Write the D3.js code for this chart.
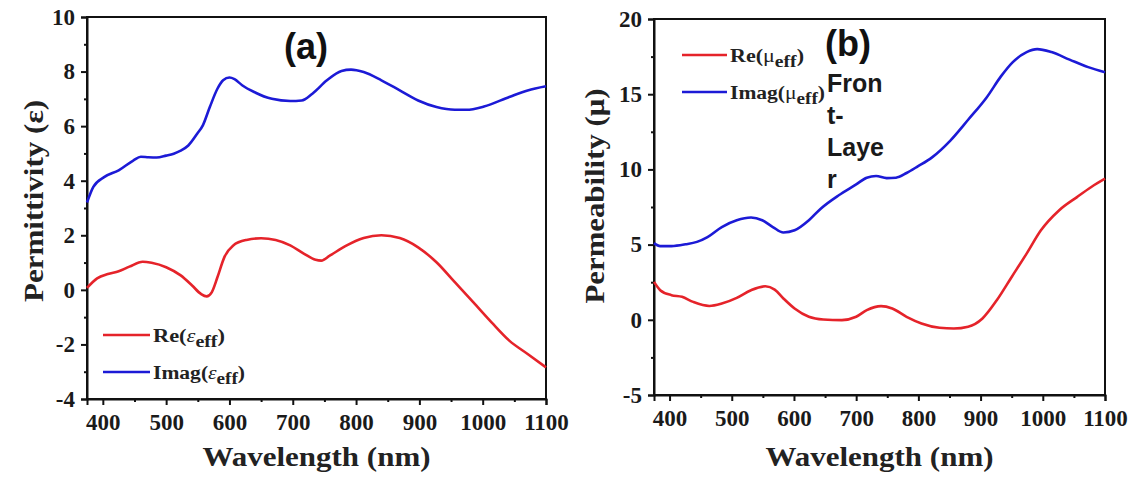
<!DOCTYPE html>
<html>
<head>
<meta charset="utf-8">
<script src="https://cdn.jsdelivr.net/npm/d3@7"></script>
<style>
  body { margin: 0; background: #fff; }
  svg { display: block; }
</style>
</head>
<body>
<div id="chart"></div>
<script>
// wavelength ticks shared by both panels
const xMajorTicks = [400, 500, 600, 700, 800, 900, 1000, 1100];
const xMinorTicks = [450, 550, 650, 750, 850, 950, 1050];

// (a) permittivity
const epsYTicks = [-4, -2, 0, 2, 4, 6, 8, 10];
const epsYMinor = [-3, -1, 1, 3, 5, 7, 9];
const epsReWl = [375, 391, 408, 425, 442, 463, 477, 500, 523, 541, 555, 564, 572, 581, 592, 606, 627, 650, 673, 696, 718, 736, 745, 759, 783, 812, 840, 869, 898, 927, 956, 985, 1014, 1042, 1071, 1100];
const epsRe = [0.07, 0.42, 0.58, 0.68, 0.85, 1.03, 0.99, 0.83, 0.53, 0.16, -0.15, -0.24, -0.09, 0.46, 1.2, 1.63, 1.83, 1.89, 1.83, 1.63, 1.32, 1.1, 1.07, 1.26, 1.6, 1.9, 2.0, 1.9, 1.56, 1.01, 0.28, -0.45, -1.19, -1.86, -2.35, -2.84];
const epsImWl = [375, 385, 402, 425, 448, 460, 472, 485, 500, 512, 523, 535, 549, 558, 569, 581, 590, 600, 608, 620, 639, 667, 696, 714, 731, 754, 777, 792, 812, 840, 869, 898, 927, 956, 974, 1002, 1042, 1071, 1100];
const epsIm = [3.2, 3.77, 4.13, 4.38, 4.74, 4.88, 4.86, 4.85, 4.92, 4.99, 5.1, 5.29, 5.72, 6.03, 6.7, 7.37, 7.68, 7.78, 7.72, 7.5, 7.25, 7.0, 6.92, 6.94, 7.19, 7.68, 8.02, 8.07, 7.98, 7.68, 7.31, 6.94, 6.7, 6.6, 6.6, 6.72, 7.07, 7.31, 7.46];

// (b) permeability
const muYTicks = [-5, 0, 5, 10, 15, 20];
const muYMinor = [-2.5, 2.5, 7.5, 12.5, 17.5];
const muReWl = [375, 385, 403, 420, 438, 464, 484, 508, 531, 554, 569, 583, 601, 624, 647, 677, 700, 717, 740, 758, 781, 805, 834, 857, 880, 903, 926, 950, 974, 997, 1026, 1055, 1078, 1100];
const muRe = [2.52, 1.97, 1.64, 1.53, 1.19, 0.92, 1.08, 1.46, 1.97, 2.23, 2.01, 1.42, 0.75, 0.2, 0.02, -0.02, 0.2, 0.64, 0.91, 0.75, 0.2, -0.24, -0.53, -0.58, -0.46, 0.09, 1.3, 2.85, 4.4, 5.95, 7.27, 8.16, 8.83, 9.38];
const muImWl = [375, 385, 403, 426, 444, 461, 484, 508, 531, 549, 566, 583, 601, 624, 643, 672, 700, 717, 732, 749, 764, 781, 799, 822, 851, 880, 910, 933, 951, 974, 991, 1014, 1043, 1073, 1100];
const muIm = [5.1, 4.9, 4.9, 5.02, 5.18, 5.5, 6.17, 6.62, 6.8, 6.62, 6.17, 5.8, 5.95, 6.62, 7.39, 8.28, 9.0, 9.45, 9.56, 9.42, 9.45, 9.76, 10.2, 10.8, 11.9, 13.3, 14.8, 16.2, 17.1, 17.8, 18.0, 17.8, 17.3, 16.8, 16.46];

const RED = '#e5232a';
const BLUE = '#1c1ad6';
const SERIF = '"Liberation Serif", "Times New Roman", serif';
const SANS = '"Liberation Sans", Arial, sans-serif';

const svg = d3.select('#chart')
    .append('svg')
    .attr('width', 1139)
    .attr('height', 477);

function zip(xs, ys) {
    return xs.map((w, i) => ({w: w, v: ys[i]}));
}

function drawPanel(p) {
    const x = d3.scaleLinear().domain([375, 1100]).range([p.left, p.right]);
    const y = d3.scaleLinear().domain(p.yDomain).range([p.bottom, p.top]);
    const g = svg.append('g');

    // frame
    g.append('rect')
        .attr('x', p.left).attr('y', p.top)
        .attr('width', p.right - p.left).attr('height', p.bottom - p.top)
        .attr('fill', 'none').attr('stroke', '#111').attr('stroke-width', 2);

    // minor ticks
    g.append('g')
        .attr('transform', `translate(0,${p.bottom})`)
        .call(d3.axisBottom(x).tickValues(xMinorTicks).tickSize(3).tickFormat(''))
        .call(a => a.select('.domain').remove());
    g.append('g')
        .attr('transform', `translate(${p.left},0)`)
        .call(d3.axisLeft(y).tickValues(p.yMinor).tickSize(3).tickFormat(''))
        .call(a => a.select('.domain').remove());

    // major ticks + labels
    const xAxis = g.append('g')
        .attr('transform', `translate(0,${p.bottom})`)
        .call(d3.axisBottom(x).tickValues(xMajorTicks).tickSize(6).tickPadding(9).tickFormat(d3.format('d')));
    const yAxis = g.append('g')
        .attr('transform', `translate(${p.left},0)`)
        .call(d3.axisLeft(y).tickValues(p.yTicks).tickSize(6).tickPadding(6).tickFormat(d => String(d).replace('\u2212', '-')));

    [xAxis, yAxis].forEach(a => {
        a.attr('font-family', null).attr('font-size', null);
        a.select('.domain').attr('stroke', '#111').attr('stroke-width', 2);
        a.selectAll('text')
            .attr('fill', '#1a1a1a')
            .style('font-family', SERIF)
            .style('font-weight', 'bold')
            .style('font-size', '23px');
    });
    g.selectAll('.tick line').attr('stroke', '#111').attr('stroke-width', 2);

    // curves
    const line = d3.line()
        .x(d => x(d.w))
        .y(d => y(d.v))
        .curve(d3.curveMonotoneX);

    p.series.forEach(s => {
        g.append('path')
            .datum(zip(s.wl, s.values))
            .attr('fill', 'none')
            .attr('stroke', s.color)
            .attr('stroke-width', 2.6)
            .attr('d', line);
    });

    // axis titles
    g.append('text')
        .attr('x', (p.left + p.right) / 2)
        .attr('y', 466)
        .attr('text-anchor', 'middle')
        .attr('textLength', 228)
        .attr('lengthAdjust', 'spacingAndGlyphs')
        .style('font-family', SERIF).style('font-weight', 'bold').style('font-size', '28px')
        .attr('fill', '#222')
        .text('Wavelength (nm)');

    g.append('text')
        .attr('transform', `translate(${p.yTitleX},${p.yTitleY}) rotate(-90)`)
        .attr('text-anchor', 'middle')
        .attr('textLength', p.yTitleLen)
        .attr('lengthAdjust', 'spacingAndGlyphs')
        .style('font-family', SERIF).style('font-weight', 'bold').style('font-size', '28px')
        .attr('fill', '#222')
        .text(p.yTitle);

    // panel tag
    g.append('text')
        .attr('x', p.tagX).attr('y', p.tagY)
        .attr('text-anchor', 'middle')
        .style('font-family', SANS).style('font-weight', 'bold').style('font-size', '36px')
        .attr('fill', '#111')
        .text(p.tag);

    // legend
    p.series.forEach((s, i) => {
        const ly = p.legendY[i];
        g.append('line')
            .attr('x1', p.legendX[0]).attr('x2', p.legendX[1])
            .attr('y1', ly).attr('y2', ly)
            .attr('stroke', s.color).attr('stroke-width', 2.6);
        const t = g.append('text')
            .attr('x', p.legendX[1] + 3).attr('y', ly + 7)
            .attr('textLength', s.labelLen)
            .attr('lengthAdjust', 'spacingAndGlyphs')
            .style('font-family', SERIF).style('font-weight', 'bold').style('font-size', '18px')
            .attr('fill', '#222');
        t.append('tspan').text(s.prefix + '(');
        t.append('tspan').style('font-style', p.symItalic ? 'italic' : 'normal').style('font-weight', 'normal').text(p.sym);
        t.append('tspan').attr('dy', 5).style('font-size', '16px').text('eff');
        t.append('tspan').attr('dy', -5).text(')');
    });

    return {x: x, y: y, g: g};
}

drawPanel({
    left: 87, right: 546, top: 17, bottom: 399,
    yDomain: [-4, 10], yTicks: epsYTicks, yMinor: epsYMinor,
    yTitle: 'Permittivity (\u03b5)', yTitleX: 43, yTitleY: 201, yTitleLen: 202,
    tag: '(a)', tagX: 306, tagY: 59,
    sym: '\u03b5', symItalic: true,
    legendX: [103, 150], legendY: [335, 372],
    series: [
        {wl: epsReWl, values: epsRe, color: RED, prefix: 'Re', labelLen: 72},
        {wl: epsImWl, values: epsIm, color: BLUE, prefix: 'Imag', labelLen: 92}
    ]
});

const panelB = drawPanel({
    left: 654, right: 1105, top: 19, bottom: 395,
    yDomain: [-5, 20], yTicks: muYTicks, yMinor: muYMinor,
    yTitle: 'Permeability (\u03bc)', yTitleX: 604, yTitleY: 196, yTitleLen: 215,
    tag: '(b)', tagX: 848, tagY: 56,
    sym: '\u03bc', symItalic: false,
    legendX: [682, 727], legendY: [55, 92],
    series: [
        {wl: muReWl, values: muRe, color: RED, prefix: 'Re', labelLen: 74},
        {wl: muImWl, values: muIm, color: BLUE, prefix: 'Imag', labelLen: 95}
    ]
});

// stray wrapped label inside panel (b)
const frontLines = ['Fron', 't-', 'Laye', 'r'];
panelB.g.append('text')
    .attr('x', 827).attr('y', 92)
    .style('font-family', SANS).style('font-weight', 'bold').style('font-size', '25px')
    .attr('fill', '#1a1a1a')
    .selectAll('tspan')
    .data(frontLines)
    .enter()
    .append('tspan')
    .attr('x', 827)
    .attr('dy', (d, i) => i === 0 ? 0 : 32)
    .text(d => d);
</script>
</body>
</html>
